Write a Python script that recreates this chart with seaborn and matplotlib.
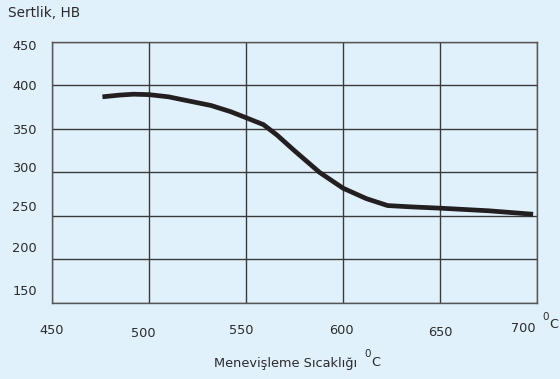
import matplotlib
matplotlib.use("Agg")
import matplotlib.pyplot as plt
import matplotlib.transforms as mtransforms
import seaborn as sns
import pandas as pd

# Data
temperature = [476, 485, 492, 500, 510, 521, 532, 542, 550, 559, 566, 575, 588,
               600, 612, 623, 635, 650, 675, 698]
hardness = [387, 389, 390, 389.5, 387, 382, 377, 370, 363, 355, 343, 325, 300,
            282, 270, 262, 260.5, 259, 256, 252]
x_ticks = [450, 500, 550, 600, 650, 700]
y_ticks = [150, 200, 250, 300, 350, 400, 450]

BG = "#e1f1fc"
sns.set_theme(style="white")
plt.rcParams['font.family'] = ['DejaVu Sans']

fig = plt.figure(figsize=(5.6, 3.79), dpi=100, facecolor=BG)
ax = fig.add_axes([52/560, 1-303/379, (537-52)/560, (303-42)/379])
ax.set_facecolor(BG)

df = pd.DataFrame({"T": temperature, "HB": hardness})
sns.lineplot(data=df, x="T", y="HB", ax=ax, color="#231f20", linewidth=3.4,
             sort=False, solid_capstyle="butt", zorder=3)

ax.set_xlim(450, 700)
ax.set_ylim(150, 450)
ax.set_xticks(x_ticks)
ax.set_yticks(y_ticks)
ax.grid(True, color="#3a3a3a", linewidth=1.0)
for s in ax.spines.values():
    s.set_color("#555555")
    s.set_linewidth(1.0)
ax.tick_params(axis="both", length=0, labelsize=9.3, colors="#2a2a2a")
ax.tick_params(axis="x", pad=15)
ax.tick_params(axis="y", pad=11)
ax.set_xlabel("")
ax.set_ylabel("")

xlabels = ["450", "500", "550", "600", "650", "700"]
ax.set_xticklabels(xlabels)
ylabels = [str(v) for v in y_ticks]
ax.set_yticklabels(ylabels)

# individual label offsets (pixels: dx, dy downwards positive)
x_off = {450: (0, 0), 500: (-6, 3), 550: (-5, 0), 600: (-2, 0), 650: (0, 2), 700: (-14, -2)}
for lab, v in zip(ax.get_xticklabels(), x_ticks):
    dx, dy = x_off[v]
    lab.set_transform(lab.get_transform() + mtransforms.ScaledTranslation(dx/100, -dy/100, fig.dpi_scale_trans))
y_off = {150: -13, 200: -12, 250: -10, 300: -5, 350: 0, 400: 0, 450: 3}
for lab, v in zip(ax.get_yticklabels(), y_ticks):
    dy = y_off[v]
    lab.set_transform(lab.get_transform() + mtransforms.ScaledTranslation(0, -dy/100, fig.dpi_scale_trans))

txt = "#2a2a2a"
# unit after 700
fig.text(546/560, 1-317/379, "0", fontsize=7.5, color=txt, ha="center", va="center")
fig.text(554/560, 1-325/379, "C", fontsize=9.3, color=txt, ha="center", va="center")

# y axis title
fig.text(8/560, 1-13/379, "Sertlik, HB", fontsize=9.8, color=txt, ha="left", va="center")

# x axis title
fig.text(357/560, 1-363/379, "Menevişleme Sıcaklığı", fontsize=9.3, color=txt, ha="right", va="center")
fig.text(368/560, 1-354/379, "0", fontsize=7.5, color=txt, ha="center", va="center")
fig.text(376/560, 1-363/379, "C", fontsize=9.3, color=txt, ha="center", va="center")

fig.savefig("out.png", dpi=100, facecolor=BG)
